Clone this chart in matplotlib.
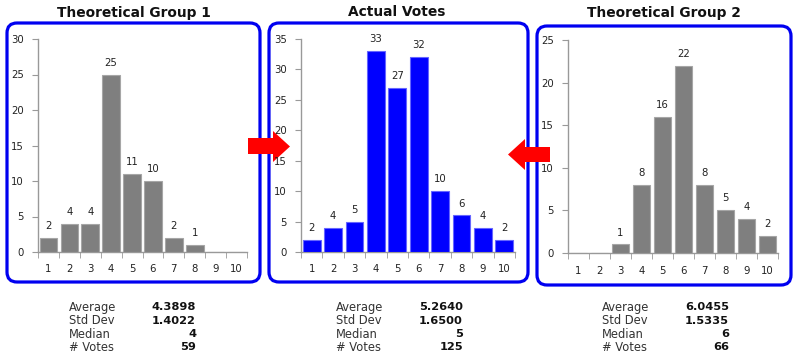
import matplotlib
matplotlib.use("Agg")
import matplotlib.pyplot as plt
from matplotlib.patches import FancyBboxPatch, Polygon
import numpy as np

categories = [1, 2, 3, 4, 5, 6, 7, 8, 9, 10]
titles = ["Theoretical Group 1", "Actual Votes", "Theoretical Group 2"]
group1 = [2, 4, 4, 25, 11, 10, 2, 1, 0, 0]
actual = [2, 4, 5, 33, 27, 32, 10, 6, 4, 2]
group2 = [0, 0, 1, 8, 16, 22, 8, 5, 4, 2]
series = [group1, actual, group2]
ymax = [30, 35, 25]
stat_labels = ["Average", "Std Dev", "Median", "# Votes"]
stat_values = [["4.3898", "1.4022", "4", "59"],
               ["5.2640", "1.6500", "5", "125"],
               ["6.0455", "1.5335", "6", "66"]]
bar_colors = ["#7f7f7f", "#0000ff", "#7f7f7f"]
edge_colors = ["#a6a6a6", "#6666ff", "#a6a6a6"]

W, H = 800, 358
fig = plt.figure(figsize=(W / 100, H / 100), dpi=100)

# overlay in pixel coordinates
ov = fig.add_axes([0, 0, 1, 1], zorder=0)
ov.set_xlim(0, W)
ov.set_ylim(H, 0)
ov.axis("off")

boxes = [(7, 23, 260, 282), (269, 23, 528, 282), (537, 26, 791, 285)]
for (x0, y0, x1, y1) in boxes:
    p = FancyBboxPatch((x0 + 10, y0 + 10), (x1 - x0) - 20, (y1 - y0) - 20,
                       boxstyle="round,pad=10", fc="white", ec="#0000f0", lw=2.3, zorder=1)
    ov.add_patch(p)

# arrows
arrow_r = [(248, 138), (273, 138), (273, 131), (290, 146.5), (273, 162), (273, 154), (248, 154)]
arrow_l = [(550, 147), (525, 147), (525, 139), (508, 154.5), (525, 170), (525, 162), (550, 162)]
for pts in (arrow_r, arrow_l):
    ov.add_patch(Polygon(pts, closed=True, fc="#ff0000", ec="none", zorder=5))

title_x = [134, 397, 664]
for tx, t in zip(title_x, titles):
    ov.text(tx, 12.5, t, ha="center", va="center", fontsize=9.9, fontweight="bold",
            color="#111111", family="DejaVu Sans")

lab_x = [69, 336, 602]
val_x = [196, 463, 729]
row_y = [307, 320.5, 334, 347.5]
for i in range(3):
    for j in range(4):
        ov.text(lab_x[i], row_y[j], stat_labels[j], ha="left", va="center",
                fontsize=8.3, color="#333333")
        ov.text(val_x[i], row_y[j], stat_values[i][j], ha="right", va="center",
                fontsize=8.2, fontweight="bold", color="#111111")

axes_px = [(38, 39, 247, 252), (301, 39, 515, 252), (568, 40, 778, 253)]
for i, (x0, y0, x1, y1) in enumerate(axes_px):
    ax = fig.add_axes([x0 / W, 1 - y1 / H, (x1 - x0) / W, (y1 - y0) / H], zorder=2)
    ax.patch.set_alpha(0)
    vals = series[i]
    ax.bar(categories, vals, width=0.84, color=bar_colors[i],
           edgecolor=edge_colors[i], linewidth=0.8, zorder=3)
    for c, v in zip(categories, vals):
        if v > 0:
            ax.annotate(str(v), (c, v), xytext=(0, 5), textcoords="offset points",
                        ha="center", va="bottom", fontsize=7.3, color="#222222")
    ax.set_xlim(0.5, 10.5)
    ax.set_ylim(0, ymax[i])
    ax.set_yticks(np.arange(0, ymax[i] + 1, 5))
    ax.set_xticks(categories)
    ax.set_xticks(np.arange(0.5, 10.6, 1), minor=True)
    ax.tick_params(axis="x", which="major", length=0, pad=9, labelsize=7.3, colors="#222222")
    ax.tick_params(axis="x", which="minor", length=4, color="#999999", direction="out")
    ax.tick_params(axis="y", length=4, color="#999999", labelsize=7.3, labelcolor="#222222", pad=6)
    for s in ("top", "right"):
        ax.spines[s].set_visible(False)
    for s in ("left", "bottom"):
        ax.spines[s].set_color("#999999")
        ax.spines[s].set_linewidth(1)

fig.savefig("out.png", dpi=100)
